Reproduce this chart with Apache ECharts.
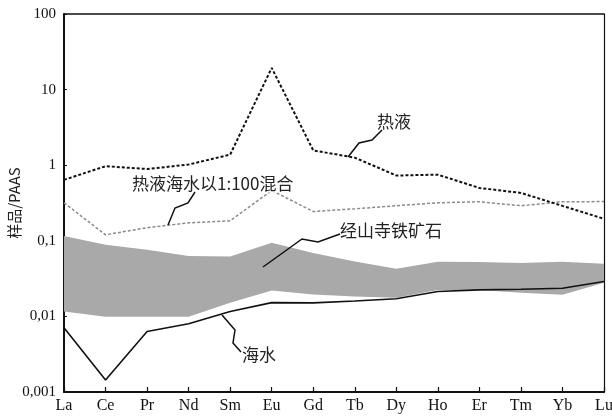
<!DOCTYPE html>
<html><head><meta charset="utf-8">
<script src="https://cdn.jsdelivr.net/npm/echarts@6/dist/echarts.min.js"></script>
<style>html,body{margin:0;padding:0;background:#fff}#c{width:612px;height:418px}</style>
</head><body><div id="c"></div>
<script>
var categories = ["La","Ce","Pr","Nd","Sm","Eu","Gd","Tb","Dy","Ho","Er","Tm","Yb","Lu"];
var hydrothermal = [0.64,0.97,0.89,1.02,1.38,19.4,1.57,1.26,0.73,0.75,0.50,0.43,0.29,0.195];
var mixture = [0.318,0.12,0.149,0.173,0.184,0.463,0.244,0.265,0.291,0.318,0.329,0.291,0.329,0.33];
var seawater = [0.0071,0.00144,0.0063,0.0080,0.0116,0.0152,0.0151,0.0160,0.0171,0.0213,0.0224,0.0229,0.0236,0.0289];
var oreTop = [0.116,0.0885,0.076,0.063,0.062,0.094,0.069,0.0532,0.0426,0.053,0.0526,0.051,0.053,0.0496];
var oreBottom = [0.0116,0.0099,0.0099,0.0099,0.0151,0.022,0.0195,0.0183,0.0176,0.0224,0.0224,0.0205,0.0193,0.0278];
var yTickLabels = {"0.001":"0,001","0.01":"0,01","0.1":"0,1","1":"1","10":"10","100":"100"};
var labelHydro = "热液", labelMix = "热液海水以1:100混合", labelOre = "经山寺铁矿石", labelSea = "海水";

var oreSpan = oreTop.map(function(v,i){return v - oreBottom[i];});
var serif = "'Liberation Serif','DejaVu Serif',serif";
var cjk = "'Noto Sans CJK SC','Liberation Serif',sans-serif";
var chart = echarts.init(document.getElementById('c'), null, {renderer:'canvas'});
chart.setOption({
  animation:false,
  grid:{left:64, right:8, top:14, bottom:26, outerBoundsMode:'none', containLabel:false, show:false},
  xAxis:[
    {type:'category', data:categories, boundaryGap:false, position:'bottom',
    axisLine:{show:true, onZero:false, lineStyle:{color:'#111', width:2}},
    axisTick:{inside:true, length:5, lineStyle:{color:'#111', width:1.2}, alignWithLabel:true},
    axisLabel:{color:'#111', fontFamily:serif, fontSize:16, margin:6, interval:0},
    splitLine:{show:false}},
    {type:'category', data:categories, boundaryGap:false, position:'top',
    axisLine:{show:true, onZero:false, lineStyle:{color:'#111', width:1.5}},
    axisTick:{show:false}, axisLabel:{show:false}, splitLine:{show:false}}
  ],
  yAxis:[
    {type:'log', logBase:10, min:0.001, max:100, position:'left',
    name:'样品/PAAS', nameLocation:'middle', nameGap:42, nameRotate:90, nameMoveOverlap:false,
    nameTextStyle:{color:'#222', fontFamily:cjk, fontSize:15},
    axisLine:{show:true, onZero:false, lineStyle:{color:'#111', width:2}},
    axisTick:{show:true, inside:true, length:3, lineStyle:{color:'#111'}},
    axisLabel:{color:'#111', fontFamily:serif, fontSize:15, margin:8,
      formatter:function(v){var k=String(+v.toPrecision(3)); return yTickLabels[k]!==undefined?yTickLabels[k]:'';}},
    splitLine:{show:false}, minorTick:{show:false}},
    {type:'log', logBase:10, min:0.001, max:100, position:'right',
    axisLine:{show:true, onZero:false, lineStyle:{color:'#111', width:1.2}},
    axisTick:{show:false}, axisLabel:{show:false}, splitLine:{show:false}}
  ],
  series:[
    {name:'oreBase', type:'line', stack:'ore', data:oreBottom, symbol:'none', lineStyle:{opacity:0}, silent:true, z:1},
    {name:'ore', type:'line', stack:'ore', data:oreSpan, symbol:'none', lineStyle:{opacity:0},
      areaStyle:{color:'#a9a9a9', opacity:1}, silent:true, z:1},
    {name:'seawater', type:'line', data:seawater, symbol:'none', lineStyle:{color:'#111', width:1.6}, z:3},
    {name:'mixture', type:'line', data:mixture, symbol:'none', lineStyle:{color:'#8a8a8a', width:1.5, type:[3,2]}, z:3},
    {name:'hydrothermal', type:'line', data:hydrothermal, symbol:'none', lineStyle:{color:'#111', width:2, type:[3,2]}, z:4}
  ],
  graphic:[
    {type:'polyline', shape:{points:[[348,157],[359,143],[372,140],[382,130]]}, style:{stroke:'#111', lineWidth:1.5, fill:null}, z:10},
    {type:'text', x:377, y:122, style:{text:labelHydro, font:'17px '+cjk, fill:'#222', verticalAlign:'middle'}, z:10},
    {type:'polyline', shape:{points:[[168,225],[175,208],[188,203],[195,192]]}, style:{stroke:'#111', lineWidth:1.5, fill:null}, z:10},
    {type:'text', x:132, y:184, style:{text:labelMix, font:'17px '+cjk, fill:'#222', verticalAlign:'middle', backgroundColor:'#fff'}, z:9},
    {type:'polyline', shape:{points:[[263,267],[302,239],[318,242],[340,234]]}, style:{stroke:'#111', lineWidth:1.5, fill:null}, z:10},
    {type:'text', x:340, y:231, style:{text:labelOre, font:'17px '+cjk, fill:'#222', verticalAlign:'middle'}, z:10},
    {type:'polyline', shape:{points:[[222,315],[235,330],[233,343],[241,352]]}, style:{stroke:'#111', lineWidth:1.5, fill:null}, z:10},
    {type:'text', x:242, y:355, style:{text:labelSea, font:'17px '+cjk, fill:'#222', verticalAlign:'middle'}, z:10}
  ]
});
</script></body></html>
